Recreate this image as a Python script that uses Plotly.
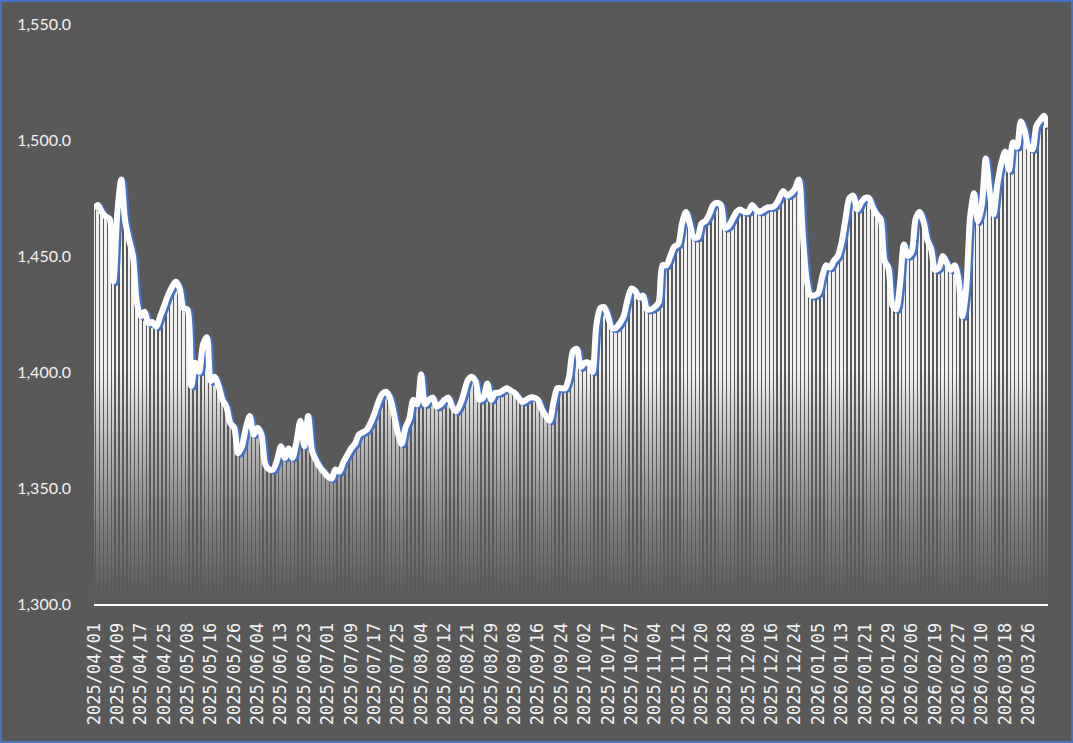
import plotly.graph_objects as go

# ---- data ----
values = [
    1470.5, 1472, 1469, 1467, 1466, 1439, 1469, 1483, 1465, 1457,
    1450, 1430, 1424, 1426, 1421, 1421.5, 1419.5, 1424, 1428.5, 1433,
    1436.5, 1439, 1436, 1427.5, 1427, 1394, 1404, 1400, 1412, 1415,
    1396, 1398, 1394, 1388, 1385, 1378, 1376, 1365, 1368, 1376,
    1381, 1373, 1376, 1373, 1360, 1358, 1358, 1362, 1368, 1363,
    1367, 1363, 1370, 1379, 1368, 1381, 1366, 1362, 1359, 1357,
    1355, 1354, 1358, 1357, 1361, 1364, 1367, 1369, 1373, 1374,
    1375, 1378, 1382, 1387, 1390.5, 1391.5, 1389, 1382, 1374, 1369,
    1376, 1380, 1388, 1386, 1399, 1386, 1388, 1389, 1385, 1386,
    1388, 1389, 1385, 1383, 1386, 1391, 1396.5, 1398, 1396, 1388,
    1389, 1395, 1388, 1391, 1391, 1392, 1393, 1392, 1391, 1389,
    1387, 1388, 1389, 1389, 1388, 1384, 1381, 1379, 1387, 1393,
    1393, 1393, 1398, 1409, 1410, 1402, 1404, 1404, 1400, 1420,
    1427.5, 1428, 1424, 1419, 1419, 1421, 1424, 1431, 1436, 1435,
    1432, 1433, 1427, 1427, 1428, 1430, 1446, 1446, 1450, 1454,
    1455, 1464, 1469, 1464, 1458, 1458, 1464, 1465, 1468, 1472,
    1473, 1472, 1462, 1463, 1466, 1469, 1470, 1469, 1469, 1472,
    1470, 1469, 1470, 1471, 1471, 1472, 1475, 1478, 1476, 1477,
    1479, 1483, 1460, 1440, 1433, 1433, 1434, 1441, 1446, 1445,
    1448, 1450, 1456, 1466, 1475, 1476, 1470, 1473, 1475, 1475,
    1471, 1468, 1466, 1448, 1445, 1429, 1427, 1438, 1455, 1450,
    1452, 1466, 1469, 1465, 1457, 1453, 1444, 1445, 1450, 1447,
    1444, 1446, 1440, 1424, 1436, 1467, 1477, 1465, 1472, 1492,
    1478, 1468, 1481, 1490, 1495, 1487, 1499, 1497, 1508, 1504,
    1497, 1496, 1506, 1508.5, 1510.5, 1505.5,
]

tick_labels = [
    "2025/04/01", "2025/04/09", "2025/04/17", "2025/04/25", "2025/05/08",
    "2025/05/16", "2025/05/26", "2025/06/04", "2025/06/13", "2025/06/23",
    "2025/07/01", "2025/07/09", "2025/07/17", "2025/07/25", "2025/08/04",
    "2025/08/12", "2025/08/21", "2025/08/29", "2025/09/08", "2025/09/16",
    "2025/09/24", "2025/10/02", "2025/10/17", "2025/10/27", "2025/11/04",
    "2025/11/12", "2025/11/20", "2025/11/28", "2025/12/08", "2025/12/16",
    "2025/12/24", "2026/01/05", "2026/01/13", "2026/01/21", "2026/01/29",
    "2026/02/06", "2026/02/19", "2026/02/27", "2026/03/10", "2026/03/18",
    "2026/03/26",
]
label_step = 6

# ---- styling ----
BG = "#595959"
BLUE = "#4472C4"
W, H = 1073, 743
ML, MR, MT, MB = 94, 25, 24, 139
Y_MIN, Y_MAX = 1300, 1550

x = list(range(len(values)))
tickvals = list(range(0, len(values), label_step))[: len(tick_labels)]

fig = go.Figure()

# thin vertical bars with a vertical fade (stacked overlay layers)
n_layers = 40
fade_top = 1402
lo_rgb = (90, 90, 90)
hi_rgb = (244, 244, 244)
for k in range(n_layers):
    level = Y_MIN + (fade_top - Y_MIN) * k / n_layers
    t = ((k + 0.5) / n_layers) ** 1.25
    c = tuple(int(lo_rgb[j] + (hi_rgb[j] - lo_rgb[j]) * t) for j in range(3))
    fig.add_trace(go.Bar(
        x=x, y=[max(v - level, 0) for v in values], base=level,
        width=0.5, marker=dict(color="rgb(%d,%d,%d)" % c, line=dict(width=0)),
        hoverinfo="skip", showlegend=False,
    ))

# blue shadow of the line
fig.add_trace(go.Scatter(
    x=[i + 0.6 for i in x], y=[v - 0.7 for v in values], mode="lines",
    line=dict(color=BLUE, width=6, shape="spline", smoothing=0.8),
    hoverinfo="skip", showlegend=False,
))

# white line
fig.add_trace(go.Scatter(
    x=x, y=values, mode="lines",
    line=dict(color="#FFFFFF", width=6, shape="spline", smoothing=0.8),
    showlegend=False,
))

pw = W - ML - MR
ph = H - MT - MB
fig.add_shape(
    type="rect", xref="paper", yref="paper",
    x0=-(ML - 1) / pw, x1=1 + (MR - 1) / pw,
    y0=-(MB - 1) / ph, y1=1 + (MT - 1) / ph,
    line=dict(color=BLUE, width=2), fillcolor="rgba(0,0,0,0)", layer="above",
)

fig.update_layout(
    width=W, height=H,
    margin=dict(l=ML, r=MR, t=MT, b=MB, pad=0, autoexpand=False),
    paper_bgcolor=BG, plot_bgcolor=BG,
    barmode="overlay", bargap=0, showlegend=False,
    xaxis=dict(
        range=[0, len(values) - 1],
        tickmode="array", tickvals=tickvals, ticktext=tick_labels,
        tickangle=-90, automargin=False,
        tickfont=dict(family="DejaVu Sans Mono", size=17, color="#F2F2F2"),
        showgrid=False, zeroline=False,
        showline=True, linecolor="#FFFFFF", linewidth=2,
        ticks="", ticklabelstandoff=10,
    ),
    yaxis=dict(
        range=[Y_MIN, Y_MAX], tickmode="linear", tick0=Y_MIN, dtick=50,
        tickformat=",.1f", automargin=False,
        tickfont=dict(family="Lato", size=16, color="#F2F2F2"),
        showgrid=False, zeroline=False, showline=False,
        ticks="", ticklabelstandoff=22,
    ),
)

fig.write_html(
    "out.html",
    config={"displayModeBar": False},
    post_script="document.body.style.margin='0';document.body.style.overflow='hidden';",
)
